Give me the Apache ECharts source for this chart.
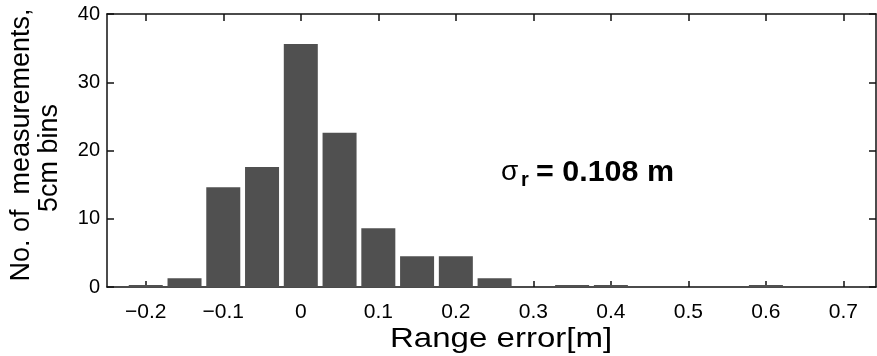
<!DOCTYPE html>
<html>
<head>
<meta charset="utf-8">
<script src="https://cdn.jsdelivr.net/npm/echarts@6/dist/echarts.min.js"></script>
<style>
html,body{margin:0;padding:0;background:#fff;}
#chart{width:877px;height:356px;}
</style>
</head>
<body>
<div id="chart"></div>
<script>
// Bin centres (m), 5 cm bins
const binCenters = [-0.20, -0.15, -0.10, -0.05, 0.00, 0.05, 0.10, 0.15, 0.20, 0.25, 0.30, 0.35, 0.40, 0.45, 0.50, 0.55, 0.60];
const counts = [0.3, 1.3, 14.6, 17.6, 35.6, 22.6, 8.6, 4.5, 4.5, 1.3, 0, 0.3, 0.3, 0, 0, 0, 0.3];
const xTicks = [-0.2, -0.1, 0, 0.1, 0.2, 0.3, 0.4, 0.5, 0.6, 0.7];
const xTickLabels = ['\u22120.2', '\u22120.1', '0', '0.1', '0.2', '0.3', '0.4', '0.5', '0.6', '0.7'];
const yTicks = [0, 10, 20, 30, 40];
const yTickLabels = ['0', '10', '20', '30', '40'];
const xLabel = 'Range error[m]';
const yLabelLine1 = 'No. of  measurements,';
const yLabelLine2 = '5cm bins';

const FONT = '"Liberation Sans", Arial, Helvetica, sans-serif';
const chart = echarts.init(document.getElementById('chart'), null, {renderer: 'canvas'});

function lookup(ticks, labels, v) {
  const i = ticks.findIndex(t => Math.abs(t - v) < 1e-9);
  return i >= 0 ? labels[i] : '';
}

const axisLine = {show: true, onZero: false, lineStyle: {color: '#111', width: 1.5}};
const tickStyle = {color: '#111', width: 1.5};
const xMin = -0.25, xMax = 0.742;

const option = {
  animation: false,
  backgroundColor: '#fff',
  grid: {left: 107, right: 1, top: 14, bottom: 69, containLabel: false},
  xAxis: [{
    type: 'value', min: xMin, max: xMax, position: 'bottom',
    splitLine: {show: false},
    axisLine: axisLine,
    axisTick: {show: true, inside: true, length: 6, customValues: xTicks, lineStyle: tickStyle},
    axisLabel: {show: true, customValues: xTicks, margin: 15, color: '#000', fontSize: 21, fontFamily: FONT,
      formatter: v => lookup(xTicks, xTickLabels, v)}
  }, {
    type: 'value', min: xMin, max: xMax, position: 'top',
    splitLine: {show: false},
    axisLine: axisLine,
    axisTick: {show: true, inside: true, length: 7, customValues: xTicks, lineStyle: tickStyle},
    axisLabel: {show: false}
  }],
  yAxis: [{
    type: 'value', min: 0, max: 40, interval: 10, position: 'left',
    splitLine: {show: false},
    axisLine: axisLine,
    axisTick: {show: true, inside: true, length: 7, lineStyle: tickStyle},
    axisLabel: {show: true, margin: 7, color: '#000', fontSize: 20, fontFamily: FONT,
      formatter: v => lookup(yTicks, yTickLabels, v)}
  }, {
    type: 'value', min: 0, max: 40, interval: 10, position: 'right',
    splitLine: {show: false},
    axisLine: axisLine,
    axisTick: {show: true, inside: true, length: 7, lineStyle: tickStyle},
    axisLabel: {show: false}
  }],
  series: [{
    type: 'bar',
    xAxisIndex: 0, yAxisIndex: 0,
    barWidth: 34,
    itemStyle: {color: '#505050'},
    data: binCenters.map((x, i) => [x, counts[i]]),
    z: 1
  }],
  graphic: [
    {type: 'text', x: 390, y: 325, scaleX: 1.18,
     style: {text: xLabel, font: '28px ' + FONT, fill: '#000'}},
    {type: 'text', rotation: Math.PI / 2, x: 22, y: 145,
     style: {text: yLabelLine1, font: '27px ' + FONT, fill: '#000', align: 'center', verticalAlign: 'middle'}},
    {type: 'text', rotation: Math.PI / 2, x: 50, y: 158,
     style: {text: yLabelLine2, font: '27px ' + FONT, fill: '#000', align: 'center', verticalAlign: 'middle'}},
    {type: 'text', x: 501, y: 158,
     style: {text: '\u03C3', font: '28px ' + FONT, fill: '#000'}},
    {type: 'text', x: 521, y: 170,
     style: {text: 'r', font: 'bold 20px ' + FONT, fill: '#000'}},
    {type: 'text', x: 536, y: 158, scaleX: 1.05,
     style: {text: '= 0.108 m', font: 'bold 29px ' + FONT, fill: '#000'}}
  ]
};
chart.setOption(option);
</script>
</body>
</html>
